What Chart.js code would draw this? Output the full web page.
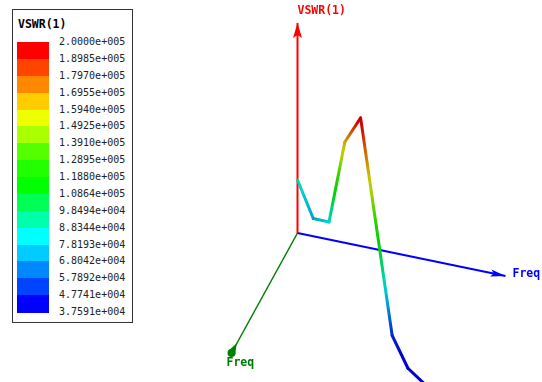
<!DOCTYPE html>
<html>
<head>
<meta charset="utf-8">
<title>VSWR(1)</title>
<script src="https://cdn.jsdelivr.net/npm/chart.js@4/dist/chart.umd.min.js"></script>
<style>
  html, body { margin: 0; padding: 0; background: #fff; overflow: hidden; }
  #wrap { position: relative; width: 542px; height: 382px; }
  #plot { position: absolute; left: 0; top: 0; }
  #legend {
    position: absolute; left: 12px; top: 9px; width: 119px; height: 312px;
    border: 1px solid #333; background: #fff;
    font-family: "DejaVu Sans Mono", monospace; color: #222;
  }
  #legend .title { position: absolute; left: 5px; top: 7px; font-size: 11.5px; font-weight: bold; line-height: 14px; color: #000; }
  #legend .sw { position: absolute; left: 4px; width: 32px; }
  #legend .tick { position: absolute; left: 46px; font-size: 10px; line-height: 12px; white-space: nowrap; }
</style>
</head>
<body>
<div id="wrap">
  <canvas id="plot" width="542" height="382"></canvas>
  <div id="legend"><div class="title">VSWR(1)</div></div>
</div>
<script>
// frequency sweep (GHz) and VSWR at each point
const freqGHz = [1.0, 1.1, 1.2, 1.3, 1.4, 1.5, 1.6, 1.7, 1.8, 1.9];
const vswr = [88500, 71600, 83800, 165000, 200000, 124800, 49700, 37591, 40200, 43000];

// colour key, top to bottom
const legendTicks = ['2.0000e+005', '1.8985e+005', '1.7970e+005', '1.6955e+005', '1.5940e+005',
  '1.4925e+005', '1.3910e+005', '1.2895e+005', '1.1880e+005', '1.0864e+005', '9.8494e+004',
  '8.8344e+004', '7.8193e+004', '6.8042e+004', '5.7892e+004', '4.7741e+004', '3.7591e+004'];
const legendColors = ['#FF0000', '#FF4400', '#FF8800', '#FFCC00', '#EEFF00', '#AAFF00', '#55FF00', '#22FF00',
  '#00FF00', '#00FF55', '#00FFAA', '#00FFFF', '#00CCFF', '#0088FF', '#0044FF', '#0000FF'];

// axis ranges of the 3D box
const freqRange = [1.0, 1.9];
const vswrRange = [44600, 218600];

// view: origin on screen and the screen vector of each full axis
const origin = { x: 297.5, y: 233 };
const axisFreqX = { dx: 208, dy: 43 };    // blue
const axisFreqY = { dx: -66, dy: 120 };   // green
const axisVswr = { dx: 0, dy: -210 };     // red
const shade = 0.82;

const vMax = parseFloat(legendTicks[0]);
const vMin = parseFloat(legendTicks[legendTicks.length - 1]);

// legend boxes
const legendEl = document.getElementById('legend');
const swH = 270 / legendColors.length;
legendColors.forEach((c, i) => {
  const d = document.createElement('div');
  d.className = 'sw';
  d.style.top = (32 + i * swH) + 'px';
  d.style.height = (swH + 0.5) + 'px';
  d.style.background = c;
  legendEl.appendChild(d);
});
legendTicks.forEach((t, i) => {
  const d = document.createElement('div');
  d.className = 'tick';
  d.style.top = (32 + i * swH - 6) + 'px';
  d.textContent = t;
  legendEl.appendChild(d);
});

const hexToRgb = (hex) => {
  const n = parseInt(hex.replace('#', ''), 16);
  return [(n >> 16) & 255, (n >> 8) & 255, n & 255];
};

// value -> colour, blended between swatch centres
const colorFor = (v) => {
  const n = legendColors.length;
  const p = (v - vMin) / (vMax - vMin) * n - 0.5; // 0 = centre of bottom swatch
  const fromBottom = legendColors.slice().reverse();
  const pc = Math.max(0, Math.min(n - 1, p));
  const i = Math.min(n - 2, Math.floor(pc));
  const f = pc - i;
  const a = hexToRgb(fromBottom[i]);
  const b = hexToRgb(fromBottom[i + 1]);
  const rgb = a.map((ch, k) => Math.round((ch + (b[k] - ch) * f) * shade));
  return `rgb(${rgb[0]},${rgb[1]},${rgb[2]})`;
};

// 3D -> screen units
const project = (fx, fy, v) => {
  const u = (fx - freqRange[0]) / (freqRange[1] - freqRange[0]);
  const w = (fy - freqRange[0]) / (freqRange[1] - freqRange[0]);
  const h = (v - vswrRange[0]) / (vswrRange[1] - vswrRange[0]);
  return {
    x: origin.x + u * axisFreqX.dx + w * axisFreqY.dx + h * axisVswr.dx,
    y: origin.y + u * axisFreqX.dy + w * axisFreqY.dy + h * axisVswr.dy
  };
};

// the trace runs along Freq = Freq in the base plane
const curvePts = freqGHz.map((f, i) => project(f, f, vswr[i]));

const f0 = freqRange[0], f1 = freqRange[1], z0 = vswrRange[0], z1 = vswrRange[1];
const axisVswrPts = [project(f0, f0, z0), project(f0, f0, z1)];
const axisXPts = [project(f0, f0, z0), project(f1, f0, z0)];
const axisYPts = [project(f0, f0, z0), project(f0, f1, z0)];

const axisLine = (pts, color, width) => ({
  data: pts, showLine: true, borderColor: color, borderWidth: width,
  pointRadius: 0, order: 2
});

// each segment walks through the colour map between its two end values
const segmentColor = (c) => {
  const g = c.chart.ctx.createLinearGradient(c.p0.x, c.p0.y, c.p1.x, c.p1.y);
  const va = vswr[c.p0DataIndex], vb = vswr[c.p1DataIndex];
  const steps = 12;
  for (let k = 0; k <= steps; k++) {
    g.addColorStop(k / steps, colorFor(va + (vb - va) * k / steps));
  }
  return g;
};

// arrowheads and axis names
const axisDecor = {
  id: 'axisDecor',
  afterDatasetsDraw(chart) {
    const { ctx, scales: { x, y } } = chart;
    const px = (p) => ({ x: x.getPixelForValue(p.x), y: y.getPixelForValue(p.y) });

    const arrow = (from, to, len, half, color) => {
      const a = px(from), b = px(to);
      const L = Math.hypot(b.x - a.x, b.y - a.y);
      const ux = (b.x - a.x) / L, uy = (b.y - a.y) / L;
      ctx.beginPath();
      ctx.moveTo(b.x, b.y);
      ctx.lineTo(b.x - ux * len - uy * half, b.y - uy * len + ux * half);
      ctx.lineTo(b.x - ux * len * 0.8, b.y - uy * len * 0.8);
      ctx.lineTo(b.x - ux * len + uy * half, b.y - uy * len - ux * half);
      ctx.closePath();
      ctx.fillStyle = color;
      ctx.fill();
      return b;
    };

    ctx.save();
    const zTip = arrow(axisVswrPts[0], axisVswrPts[1], 15, 4.5, '#FF0000');
    const xTip = arrow(axisXPts[0], axisXPts[1], 15, 3.5, '#0000FF');

    // green axis ends in a rounded head
    const a = px(axisYPts[0]), b = px(axisYPts[1]);
    const L = Math.hypot(b.x - a.x, b.y - a.y);
    const ux = (b.x - a.x) / L, uy = (b.y - a.y) / L;
    const cx = b.x, cy = b.y;
    ctx.fillStyle = '#008000';
    ctx.beginPath();
    ctx.arc(cx, cy, 4, 0, Math.PI * 2);
    ctx.fill();
    ctx.beginPath();
    ctx.moveTo(cx - uy * 4, cy + ux * 4);
    ctx.lineTo(cx - ux * 11, cy - uy * 11);
    ctx.lineTo(cx + uy * 4, cy - ux * 4);
    ctx.closePath();
    ctx.fill();

    ctx.font = 'bold 11.5px "DejaVu Sans Mono"';
    ctx.textBaseline = 'middle';
    ctx.textAlign = 'left';
    ctx.fillStyle = '#FF0000';
    ctx.fillText('VSWR(1)', zTip.x, zTip.y - 12);
    ctx.fillStyle = '#0000FF';
    ctx.fillText('Freq', xTip.x + 7, xTip.y - 2);
    ctx.fillStyle = '#007A00';
    ctx.fillText('Freq', b.x - 5, b.y + 10);
    ctx.restore();
  }
};

new Chart(document.getElementById('plot'), {
  type: 'scatter',
  data: {
    datasets: [
      {
        data: curvePts, showLine: true, borderWidth: 3, pointRadius: 0, order: 0,
        borderCapStyle: 'round', borderJoinStyle: 'round',
        segment: { borderColor: segmentColor }
      },
      axisLine(axisVswrPts, '#FF0000', 2),
      axisLine(axisXPts, '#0000FF', 2),
      axisLine(axisYPts, '#008000', 1.5)
    ]
  },
  options: {
    responsive: false,
    animation: false,
    layout: { padding: 0 },
    plugins: { legend: { display: false }, tooltip: { enabled: false } },
    scales: {
      x: { type: 'linear', display: false, min: 0, max: 542 },
      y: { type: 'linear', display: false, min: 0, max: 382, reverse: true }
    }
  },
  plugins: [axisDecor]
});
</script>
</body>
</html>
